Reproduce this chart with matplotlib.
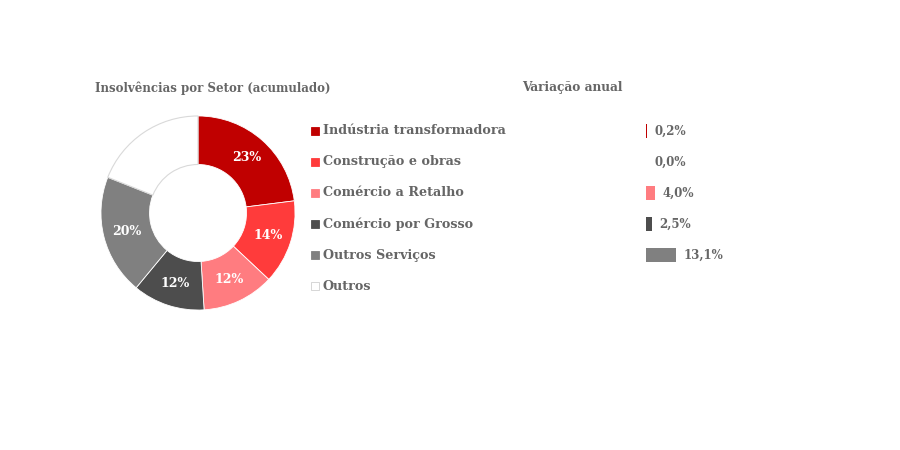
import matplotlib
matplotlib.use("Agg")
import matplotlib.pyplot as plt

# dados do gráfico
setores = ["Indústria transformadora", "Construção e obras", "Comércio a Retalho",
           "Comércio por Grosso", "Outros Serviços", "Outros"]
quotas = [23, 14, 12, 12, 20, 19]
cores = ["#C00000", "#FF3B3B", "#FF7C80", "#4D4D4D", "#808080", "#FFFFFF"]

variacao = [0.2, 0.0, 4.0, 2.5, 13.1]
variacao_txt = ["0,2%", "0,0%", "4,0%", "2,5%", "13,1%"]

cinza = "#666666"
fonte = "DejaVu Serif"

fig = plt.figure(figsize=(9, 4.5), dpi=100)
W, H = 900, 450


def px_axes(x0, y0, x1, y1):
    # caixa em pixels (origem no topo) -> coordenadas da figura
    return fig.add_axes([x0 / W, 1 - y1 / H, (x1 - x0) / W, (y1 - y0) / H])


# donut
ax_pie = px_axes(100, 115, 296, 311)
wedges, _, autotexts = ax_pie.pie(
    quotas, colors=cores, startangle=90, counterclock=False,
    autopct=lambda p: f"{p:.0f}%" if p < 19 or p > 19.5 else "",
    pctdistance=0.76, radius=1,
    wedgeprops=dict(width=0.5, edgecolor="white", linewidth=0.6),
    textprops=dict(color="white", fontsize=9, fontweight="bold", family=fonte))
wedges[-1].set_edgecolor("#D9D9D9")
wedges[-1].set_linewidth(0.8)
ax_pie.set_xlim(-1.01, 1.01)
ax_pie.set_ylim(-1.01, 1.01)
ax_pie.set_aspect("equal")

# legenda
ax_leg = px_axes(310, 115.5, 520, 301.5)
for i, (nome, cor) in enumerate(zip(setores, cores)):
    ax_leg.plot(0.22, i, marker="s", markersize=5.5, color=cor,
                markeredgecolor="#D0D0D0" if cor == "#FFFFFF" else cor, markeredgewidth=0.6)
    ax_leg.text(0.6, i, nome, va="center", ha="left", fontsize=9.2, fontweight="bold",
                color=cinza, family=fonte)
ax_leg.set_xlim(0, 10)
ax_leg.set_ylim(5.5, -0.5)
ax_leg.axis("off")

# variação anual
ax_bar = px_axes(646, 115.5, 760, 270.5)
linhas = list(range(len(variacao)))
ax_bar.barh(linhas, [max(v, 0.6) if v > 0 else 0 for v in variacao], height=0.45,
            color=cores[:len(variacao)])
for i, (v, t) in enumerate(zip(variacao, variacao_txt)):
    ax_bar.text(max(v, 0.6) + 3.2, i, t, va="center", ha="left", fontsize=8.5,
                fontweight="bold", color=cinza, family=fonte)
ax_bar.set_xlim(0, 114 / 2.3)
ax_bar.set_ylim(4.5, -0.5)
ax_bar.axis("off")

# títulos
fig.text(95 / W, 1 - 88 / H, "Insolvências por Setor (acumulado)", fontsize=8.5,
         fontweight="bold", color=cinza, family=fonte, va="center", ha="left")
fig.text(522 / W, 1 - 88 / H, "Variação anual", fontsize=8.7,
         fontweight="bold", color=cinza, family=fonte, va="center", ha="left")

fig.savefig("out.png", dpi=100, facecolor="white")
